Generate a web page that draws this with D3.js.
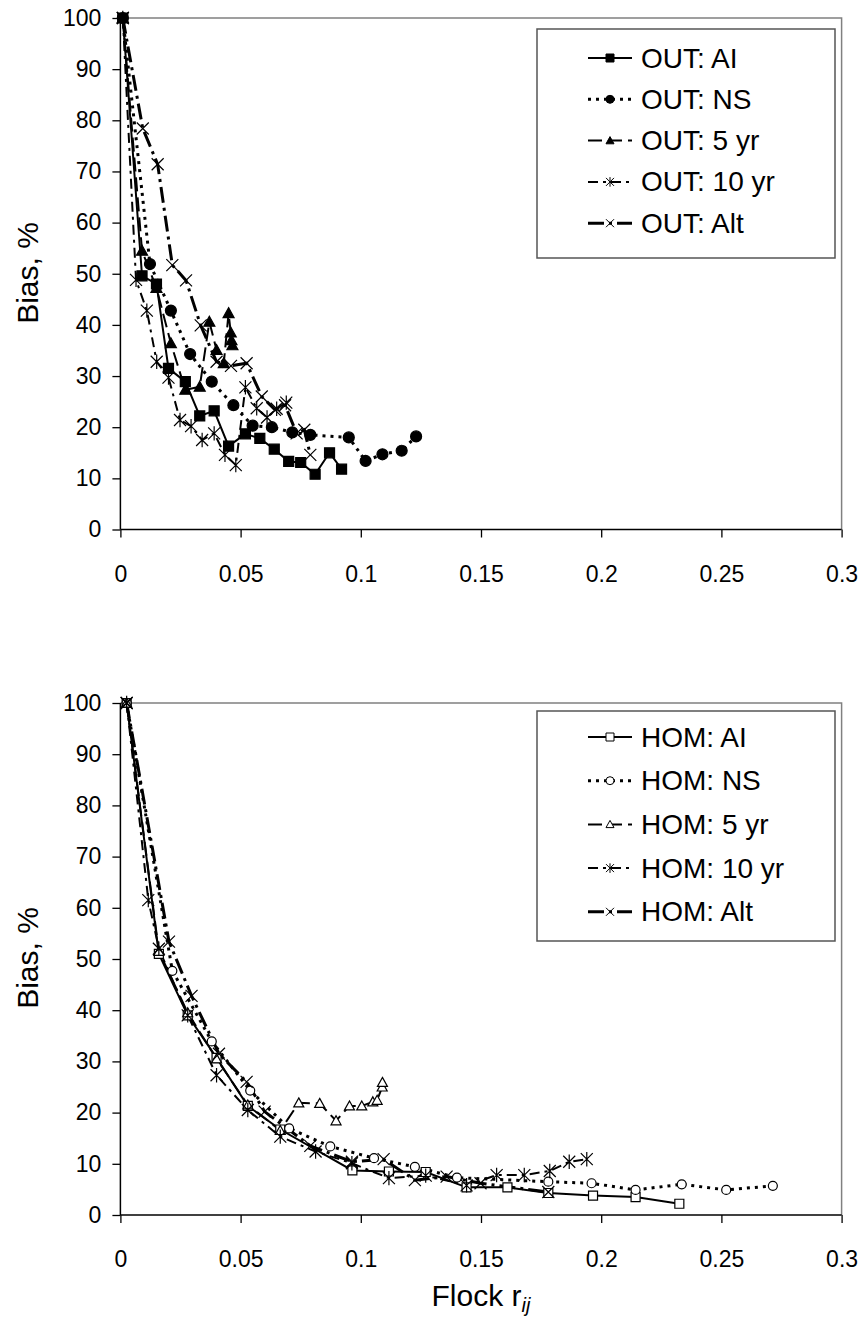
<!DOCTYPE html>
<html><head><meta charset="utf-8">
<script src="https://cdn.jsdelivr.net/npm/d3@7"></script>
<style>
body{margin:0;background:#fff}
svg{display:block}
text{font-family:"Liberation Sans",Arial,sans-serif;fill:#000}
</style>
</head><body>
<svg id="c" width="863" height="1320"></svg>
<script>
// ---------- tick values ----------
const xTickValues = [0, 0.05, 0.1, 0.15, 0.2, 0.25, 0.3];
const xTickLabels = ["0", "0.05", "0.1", "0.15", "0.2", "0.25", "0.3"];
const yTickValues = [0, 10, 20, 30, 40, 50, 60, 70, 80, 90, 100];
const yTickLabels = ["0", "10", "20", "30", "40", "50", "60", "70", "80", "90", "100"];

// ---------- top panel: OUT ----------
const outAI_r  = [0.001, 0.009, 0.015, 0.020, 0.027, 0.033, 0.039, 0.045, 0.052, 0.058, 0.064, 0.070, 0.075, 0.081, 0.087, 0.092];
const outAI_v  = [100, 49.6, 48.0, 31.5, 28.9, 22.2, 23.2, 16.3, 18.7, 17.8, 15.7, 13.3, 13.1, 10.8, 15.0, 11.8];
const outNS_r  = [0.001, 0.0123, 0.021, 0.029, 0.038, 0.047, 0.055, 0.063, 0.0715, 0.079, 0.095, 0.102, 0.109, 0.117, 0.123];
const outNS_v  = [100, 51.9, 42.8, 34.3, 28.9, 24.3, 20.3, 20.0, 19.0, 18.5, 18.0, 13.4, 14.7, 15.4, 18.2];
const out5_r   = [0.001, 0.009, 0.015, 0.021, 0.027, 0.033, 0.037, 0.040, 0.043, 0.045, 0.0459, 0.0462, 0.0466];
const out5_v   = [100, 54.5, 47.2, 36.4, 27.3, 27.9, 40.6, 35.1, 32.5, 42.3, 38.5, 37.0, 36.0];
const out10_r  = [0.001, 0.0065, 0.011, 0.0151, 0.020, 0.0248, 0.0294, 0.034, 0.039, 0.0435, 0.048, 0.052, 0.0567, 0.061, 0.065, 0.069];
const out10_v  = [100, 48.8, 42.8, 32.8, 29.7, 21.4, 20.2, 17.5, 18.8, 14.6, 12.6, 27.8, 23.7, 21.9, 23.6, 24.8];
const outAlt_r = [0.001, 0.0093, 0.0155, 0.0216, 0.0273, 0.0334, 0.040, 0.046, 0.0525, 0.0588, 0.0643, 0.0685, 0.0733, 0.0765, 0.079];
const outAlt_v = [100, 78.4, 71.4, 51.7, 48.7, 39.9, 32.8, 32.0, 32.5, 26.0, 23.4, 24.3, 18.8, 19.5, 14.6];

// ---------- bottom panel: HOM ----------
const homAI_r  = [0.0026, 0.016, 0.028, 0.040, 0.053, 0.0665, 0.0965, 0.1117, 0.127, 0.144, 0.161, 0.178, 0.1966, 0.2143, 0.2325];
const homAI_v  = [100, 51.0, 39.0, 30.7, 21.3, 16.7, 8.7, 8.5, 8.4, 5.4, 5.4, 4.3, 3.8, 3.5, 2.2];
const homNS_r  = [0.0026, 0.0216, 0.038, 0.054, 0.0702, 0.0873, 0.1055, 0.1225, 0.140, 0.178, 0.196, 0.2143, 0.2335, 0.252, 0.2714];
const homNS_v  = [100, 47.7, 33.9, 24.3, 16.9, 13.4, 11.1, 9.4, 7.3, 6.5, 6.2, 4.9, 6.0, 4.9, 5.7];
const hom5_r   = [0.0026, 0.016, 0.028, 0.040, 0.053, 0.0665, 0.0742, 0.0829, 0.0897, 0.0953, 0.1004, 0.105, 0.1068, 0.1089, 0.109];
const hom5_v   = [100, 51.5, 39.5, 30.5, 21.5, 16.5, 21.9, 21.8, 18.4, 21.3, 21.3, 22.1, 22.4, 25.0, 25.9];
const hom10_r  = [0.0026, 0.0116, 0.016, 0.028, 0.040, 0.053, 0.0665, 0.0812, 0.0963, 0.1117, 0.127, 0.144, 0.1565, 0.168, 0.1786, 0.1867, 0.194];
const hom10_v  = [100, 61.5, 52.0, 39.0, 27.3, 20.5, 15.3, 12.4, 10.1, 7.2, 7.7, 5.8, 7.8, 7.8, 8.6, 10.4, 10.9];
const homAlt_r = [0.0026, 0.0202, 0.0296, 0.041, 0.0525, 0.060, 0.079, 0.0963, 0.1095, 0.1225, 0.1357, 0.1498, 0.178];
const homAlt_v = [100, 53.4, 42.8, 31.5, 26.0, 20.2, 13.5, 10.4, 10.9, 6.8, 7.5, 6.2, 4.5];

const outNames = ["OUT: AI", "OUT: NS", "OUT: 5 yr", "OUT: 10 yr", "OUT: Alt"];
const homNames = ["HOM: AI", "HOM: NS", "HOM: 5 yr", "HOM: 10 yr", "HOM: Alt"];

// styles (index-matched to the 5 series)
const dashes  = [null, "3,5", "14,6", "10,5,3,5", "16,5,3,5"];
const widths  = [2, 3, 2, 2, 3];
const markers = ["square", "circle", "triangle", "asterisk", "cross"];

const svg = d3.select("#c");
const X0 = 120.4, X1 = 841.6;

function markerPath(kind, s) {
  const h = s / 2;
  if (kind === "square") return `M${-h},${-h}H${h}V${h}H${-h}Z`;
  if (kind === "circle") return `M${h},0A${h},${h} 0 1,1 ${-h},0A${h},${h} 0 1,1 ${h},0Z`;
  if (kind === "triangle") return `M0,${-h}L${h},${h*0.8}L${-h},${h*0.8}Z`;
  if (kind === "cross") return `M${-h},${-h}L${h},${h}M${-h},${h}L${h},${-h}`;
  if (kind === "asterisk") return `M${-h},${-h}L${h},${h}M${-h},${h}L${h},${-h}M0,${-h*1.2}V${h*1.2}`;
}

function panel(cfg) {
  const x = d3.scaleLinear().domain([0, 0.3]).range([X0, X1]);
  const y = d3.scaleLinear().domain([0, 100]).range([cfg.y0, cfg.y1]);
  const g = svg.append("g");

  // plot area border (grey top/right)
  g.append("path").attr("d", `M${X0},${cfg.y1}H${X1}V${cfg.y0}`)
    .attr("fill", "none").attr("stroke", "#808080").attr("stroke-width", 1.5);

  // axes
  const yAxis = d3.axisLeft(y).tickValues(yTickValues).tickSize(8).tickPadding(11)
    .tickFormat((d, i) => yTickLabels[i]);
  const ya = g.append("g").attr("transform", `translate(${X0},0)`).call(yAxis);
  const xAxis = d3.axisBottom(x).tickValues(xTickValues).tickSize(8).tickPadding(28)
    .tickFormat((d, i) => xTickLabels[i]);
  const xa = g.append("g").attr("transform", `translate(0,${cfg.y0})`).call(xAxis);
  [ya, xa].forEach(a => {
    a.select(".domain").attr("stroke", "#000").attr("stroke-width", 1.5);
    a.selectAll(".tick line").attr("stroke", "#000").attr("stroke-width", 1.3);
    a.selectAll("text").style("font-size", "23px").attr("fill", "#000")
      .style("font-family", "'Liberation Sans', Arial, sans-serif");
  });
  xa.select(".domain").attr("d", `M${X0},0H${X1}`);
  ya.select(".domain").attr("d", `M0,${cfg.y0}V${cfg.y1}`);

  // series
  const line = d3.line().x(d => x(d[0])).y(d => y(d[1]));
  cfg.series.forEach((s, i) => {
    const pts = s.r.map((r, k) => [r, s.v[k]]);
    g.append("path").datum(pts).attr("d", line).attr("fill", "none")
      .attr("stroke", "#000").attr("stroke-width", widths[i])
      .attr("stroke-dasharray", dashes[i]);
  });
  cfg.series.forEach((s, i) => {
    const pts = s.r.map((r, k) => [r, s.v[k]]);
    const kind = markers[i];
    const open = cfg.open && (kind === "square" || kind === "circle" || kind === "triangle");
    const size = cfg.sizes[i];
    g.selectAll(null).data(pts).enter().append("path")
      .attr("transform", d => `translate(${x(d[0])},${y(d[1])})`)
      .attr("d", markerPath(kind, size))
      .attr("fill", (kind === "cross" || kind === "asterisk") ? "none" : (open ? "#fff" : "#000"))
      .attr("stroke", "#000").attr("stroke-width", 1.2);
  });

  // y axis title
  g.append("text").attr("transform", `translate(27,${cfg.titleY}) rotate(-90)`)
    .attr("text-anchor", "middle").attr("dominant-baseline", "central")
    .style("font-size", "30px").text("Bias, %");

  // legend
  const L = cfg.legend;
  g.append("rect").attr("x", L.x).attr("y", L.y).attr("width", L.w).attr("height", L.h)
    .attr("fill", "#fff").attr("stroke", "#555").attr("stroke-width", 1.5);
  cfg.names.forEach((n, i) => {
    const cy = L.first + i * L.step;
    g.append("line").attr("x1", 588).attr("x2", 632).attr("y1", cy).attr("y2", cy)
      .attr("stroke", "#000").attr("stroke-width", widths[i]).attr("stroke-dasharray", dashes[i]);
    const kind = markers[i];
    const open = cfg.open && (kind === "square" || kind === "circle" || kind === "triangle");
    g.append("path").attr("transform", `translate(610,${cy})`).attr("d", markerPath(kind, 8))
      .attr("fill", (kind === "cross" || kind === "asterisk") ? "none" : (open ? "#fff" : "#000"))
      .attr("stroke", "#000").attr("stroke-width", 1);
    g.append("text").attr("x", 641).attr("y", cy).attr("dominant-baseline", "central")
      .style("font-size", "28px").text(n);
  });
}

panel({
  y0: 529.5, y1: 18, titleY: 273, open: false,
  sizes: [10, 11, 11, 12, 12],
  names: outNames,
  legend: {x: 537, y: 29, w: 298, h: 229, first: 58, step: 41.3},
  series: [
    {r: outAI_r, v: outAI_v}, {r: outNS_r, v: outNS_v}, {r: out5_r, v: out5_v},
    {r: out10_r, v: out10_v}, {r: outAlt_r, v: outAlt_v}
  ]
});
panel({
  y0: 1215, y1: 703, titleY: 958, open: true,
  sizes: [9, 9, 10, 12, 12],
  names: homNames,
  legend: {x: 537, y: 711, w: 298, h: 230, first: 737, step: 43.7},
  series: [
    {r: homAI_r, v: homAI_v}, {r: homNS_r, v: homNS_v}, {r: hom5_r, v: hom5_v},
    {r: hom10_r, v: hom10_v}, {r: homAlt_r, v: homAlt_v}
  ]
});

// x axis title with italic subscript
const t = svg.append("text").attr("x", 481).attr("y", 1306).attr("text-anchor", "middle")
  .style("font-size", "30px");
t.append("tspan").text("Flock r");
t.append("tspan").attr("font-style", "italic").attr("dy", 6)
  .style("font-size", "20px").text("ij");
</script>
</body></html>
